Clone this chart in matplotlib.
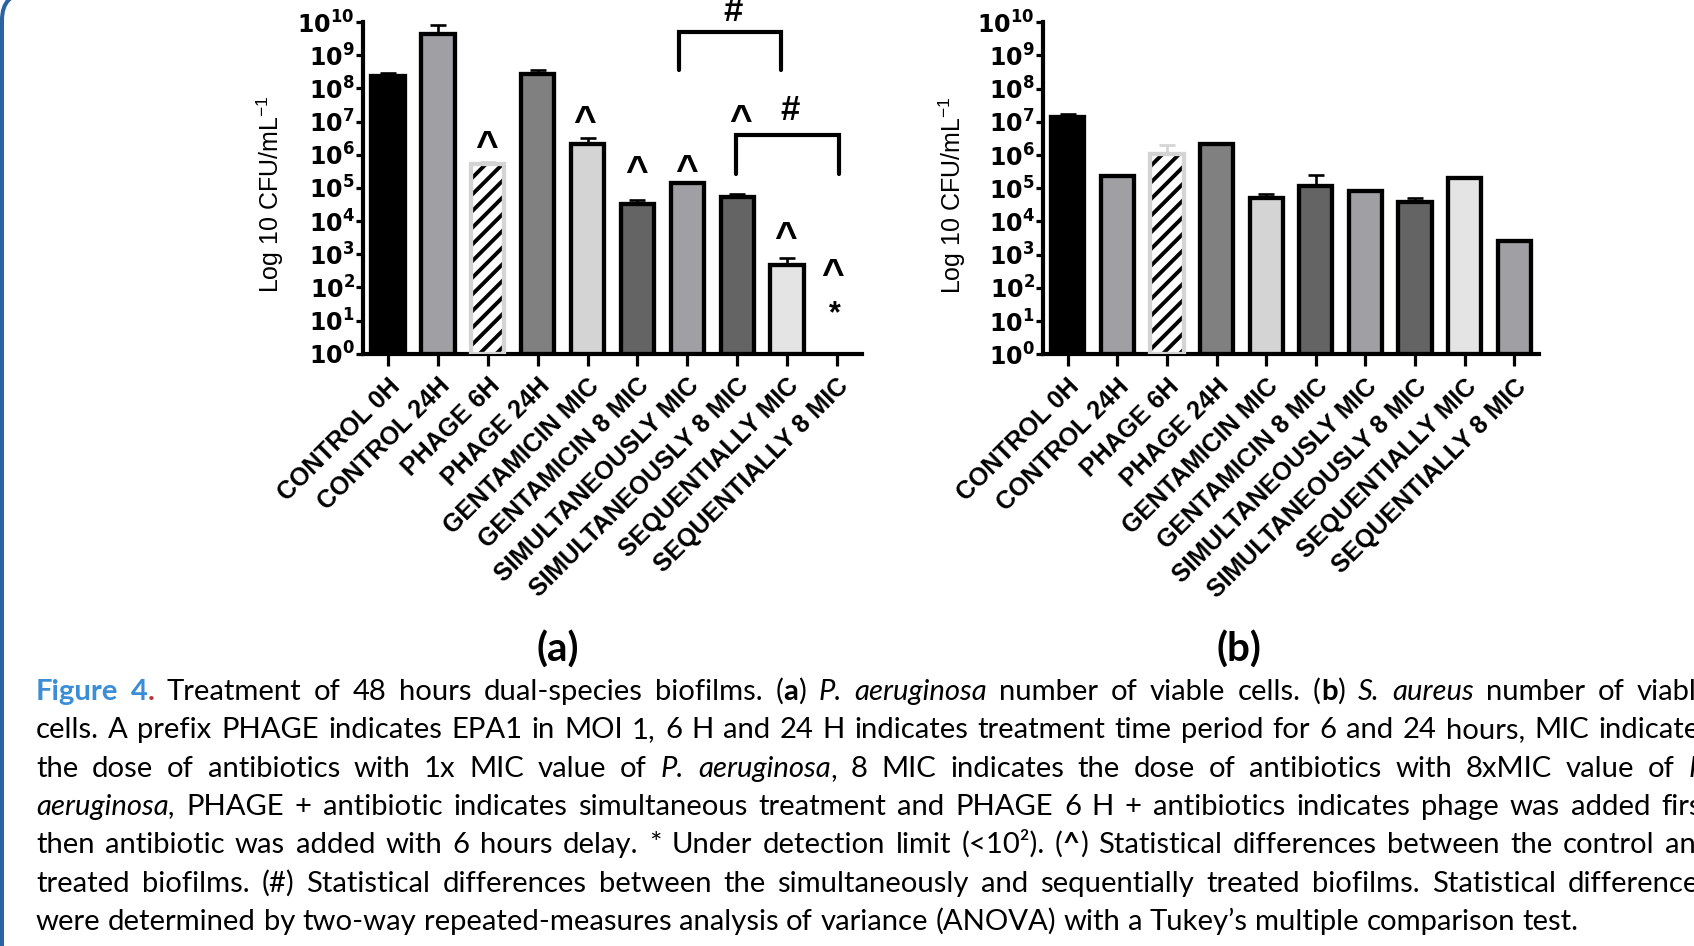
import numpy as np
import matplotlib
matplotlib.use("Agg")
import matplotlib.pyplot as plt
from matplotlib.patches import FancyBboxPatch
from matplotlib.ticker import FixedLocator, NullLocator
from matplotlib.transforms import ScaledTranslation

plt.rcParams['font.family'] = ['Liberation Sans', 'DejaVu Sans']
plt.rcParams['mathtext.fontset'] = 'dejavusans'
plt.rcParams['hatch.linewidth'] = 2.8

# ---- data (CFU/mL) ----
categories = ['CONTROL 0H', 'CONTROL 24H', 'PHAGE 6H', 'PHAGE 24H', 'GENTAMICIN MIC',
              'GENTAMICIN 8 MIC', 'SIMULTANEOUSLY MIC', 'SIMULTANEOUSLY 8 MIC',
              'SEQUENTIALLY MIC', 'SEQUENTIALLY 8 MIC']

# (a) P. aeruginosa, nan = under detection limit
pa_mean = [2.3e8, 4.2e9, 5.4e5, 2.8e8, 2.1e6, 3.3e4, 1.4e5, 5.3e4, 4.8e2, np.nan]
pa_sd = [6e7, 3.7e9, 6e4, 8e7, 1.1e6, 1.1e4, 5e3, 1.2e4, 3.0e2, 0]

# (b) S. aureus
sa_mean = [1.37e7, 2.3e5, 1.05e6, 2.1e6, 5.2e4, 1.2e5, 8.2e4, 3.9e4, 2.0e5, 2.5e3]
sa_sd = [3.3e6, 3e4, 9.5e5, 2.4e5, 1.4e4, 1.3e5, 3e3, 1.3e4, 2e4, 0]

bar_colors = ['#000000', '#a0a0a4', '#ffffff', '#808080', '#d4d4d4',
              '#646464', '#a0a0a4', '#646464', '#e4e4e4', '#a0a0a4']
hatched = 2   # PHAGE 6H

fig = plt.figure(figsize=(16.94, 9.46), dpi=100)

# full-figure axes in pixel units for border, panel letters and caption
bg = fig.add_axes([0, 0, 1, 1], zorder=-1)
bg.set_xlim(0, 1694)
bg.set_ylim(946, 0)
bg.axis('off')
bg.add_patch(FancyBboxPatch((2, -7), 3000, 2000, boxstyle='round,pad=0,rounding_size=27',
                            fill=False, edgecolor='#2b63a2', linewidth=2.9))


def draw_panel(ax, means, sds, label_x):
    x = np.arange(len(categories))
    for i in range(len(categories)):
        if np.isnan(means[i]):
            continue
        if i == hatched:
            ax.bar(x[i], means[i] - 1, bottom=1, width=0.67, color='white',
                   edgecolor='black', hatch='//', linewidth=0, zorder=3)
            ax.bar(x[i], means[i] - 1, bottom=1, width=0.67, color='none',
                   edgecolor='#d4d4d4', linewidth=3.1, zorder=3)
            ecol = '#d4d4d4'
        else:
            ax.bar(x[i], means[i] - 1, bottom=1, width=0.67, color=bar_colors[i],
                   edgecolor='black', linewidth=3.1, zorder=3)
            ecol = 'black'
        if sds[i] > 0:
            ax.errorbar(x[i], means[i], yerr=[[0], [sds[i]]], fmt='none', ecolor=ecol,
                        elinewidth=1.9, capsize=6, capthick=1.9, zorder=2)

    ax.set_yscale('log')
    ax.set_ylim(1, 1e10)
    ax.set_xlim(-0.5, 9.5)
    ax.set_facecolor('none')
    for s in ['top', 'right']:
        ax.spines[s].set_visible(False)
    for s in ['left', 'bottom']:
        ax.spines[s].set_linewidth(3.0)

    decades = np.arange(11)
    ax.yaxis.set_major_locator(FixedLocator(10.0 ** decades))
    ax.yaxis.set_minor_locator(NullLocator())
    ax.set_yticklabels([r'$\mathbf{10^{%d}}$' % d for d in decades], fontsize=17)
    ax.tick_params(axis='y', length=5, width=2.3, pad=1)

    ax.set_xticks(x)
    ax.set_xticklabels(categories, rotation=45, ha='right', va='center',
                       rotation_mode='anchor', fontsize=18, fontweight='bold')
    ax.tick_params(axis='x', length=8.6, width=2.3, pad=12)
    for lab in ax.get_xticklabels():
        lab.set_transform(lab.get_transform() + ScaledTranslation(0.08, 0, fig.dpi_scale_trans))

    ax.set_ylabel(r'Log 10 CFU/mL$^{\mathregular{-1}}$', fontsize=18, va='center')
    ax.yaxis.set_label_coords(label_x, 0.48)


ax_a = fig.add_axes([363 / 1694, (946 - 353.7) / 946, 499 / 1694, 331.7 / 946])
ax_b = fig.add_axes([1043 / 1694, (946 - 354.3) / 946, 496 / 1694, 332 / 946])
draw_panel(ax_a, pa_mean, pa_sd, -0.185)
draw_panel(ax_b, sa_mean, sa_sd, -0.182)

# significance marks on panel (a)
marks = [(1.98, 10 ** 6.52, '^'), (3.94, 10 ** 7.27, '^'), (4.98, 10 ** 5.77, '^'),
         (5.98, 10 ** 5.80, '^'), (7.06, 10 ** 7.31, '^'), (7.97, 10 ** 3.79, '^'),
         (8.91, 10 ** 2.65, '^'), (8.95, 10 ** 1.48, '*'),
         (6.91, 10 ** 10.39, '#'), (8.06, 10 ** 7.40, '#')]
# font size and height of the glyph centre above the baseline (fraction of size)
mark_style = {'^': (28, 0.53), '*': (22, 0.58), '#': (25, 0.35)}
for mx, my, sym in marks:
    size, cen = mark_style[sym]
    ax_a.annotate(sym, xy=(mx, my), xytext=(0, -cen * size), textcoords='offset points',
                  ha='center', va='baseline', fontsize=size, fontweight='bold',
                  annotation_clip=False)

# brackets: x-left, x-right, top, leg end
for x0, x1, ytop, yleg in [(5.83, 7.87, 10 ** 9.71, 10 ** 8.54),
                           (6.98, 9.04, 10 ** 6.59, 10 ** 5.41)]:
    ax_a.plot([x0, x0, x1, x1], [yleg, ytop, ytop, yleg], color='black', lw=3.0,
              solid_capstyle='round', solid_joinstyle='miter', clip_on=False, zorder=4)

# panel letters
bg.text(558, 650, '(a)', ha='center', va='center', family='Lato', fontweight='bold', fontsize=29)
bg.text(1239, 650, '(b)', ha='center', va='center', family='Lato', fontweight='bold', fontsize=29)

# ---- caption ----
caption = [
    [('Figure 4', 'blue'), ('.', 'red'), (' Treatment of 48 hours dual-species biofilms. (', 'n'),
     ('a', 'b'), (') ', 'n'), ('P. aeruginosa', 'i'), (' number of viable cells. (', 'n'),
     ('b', 'b'), (') ', 'n'), ('S. aureus', 'i'), (' number of viable', 'n')],
    [('cells. A prefix PHAGE indicates EPA1 in MOI 1, 6 H and 24 H indicates treatment time '
      'period for 6 and 24 hours, MIC indicates', 'n')],
    [('the dose of antibiotics with 1x MIC value of ', 'n'), ('P. aeruginosa', 'i'),
     (', 8 MIC indicates the dose of antibiotics with 8xMIC value of ', 'n'), ('P.', 'i')],
    [('aeruginosa,', 'i'), (' PHAGE + antibiotic indicates simultaneous treatment and PHAGE 6 H '
                            '+ antibiotics indicates phage was added first', 'n')],
    [('then antibiotic was added with 6 hours delay. * Under detection limit (<10²). (', 'n'),
     ('^', 'b'), (') Statistical differences between the control and', 'n')],
    [('treated biofilms. (#) Statistical differences between the simultaneously and sequentially '
      'treated biofilms. Statistical differences', 'n')],
    [('were determined by two-way repeated-measures analysis of variance (ANOVA) with a '
      'Tukey’s multiple comparison test.', 'n')],
]
styles = {'n': {}, 'i': {'style': 'italic'}, 'b': {'weight': 'bold'},
          'blue': {'color': '#3a8dd6', 'weight': 'bold'},
          'red': {'color': '#b23a3a', 'weight': 'bold'}}

renderer = fig.canvas.get_renderer()


def width_of(txt, style, size):
    t = bg.text(0, 0, txt, fontsize=size, family='Lato', **styles[style])
    w = t.get_window_extent(renderer).width
    t.remove()
    return w


def split_words(segments):
    words = [[]]
    for txt, style in segments:
        for k, part in enumerate(txt.split(' ')):
            if k > 0:
                words.append([])
            if part:
                words[-1].append((part, style))
    return [w for w in words if w]


lines = [split_words(seg) for seg in caption]

# size chosen so the last (unjustified) line ends where it does in the figure
base = 20
nat = sum(width_of(p, s, base) for w in lines[-1] for p, s in w)
nat += (width_of('a a', 'n', base) - width_of('aa', 'n', base)) * (len(lines[-1]) - 1)
fsize = base * (1579 - 36) / nat
space = width_of('a a', 'n', fsize) - width_of('aa', 'n', fsize)

x_left, x_right = 36, 1712
for k, words in enumerate(lines):
    widths = [[width_of(p, s, fsize) for p, s in w] for w in words]
    total = sum(sum(w) for w in widths)
    gap = space
    if k < len(lines) - 1:
        gap = max(space, (x_right - x_left - total) / (len(words) - 1))
    x = x_left
    y = 700 + 38.3 * k
    for w, ws in zip(words, widths):
        for (p, s), pw in zip(w, ws):
            bg.text(x, y, p, fontsize=fsize, family='Lato', va='baseline', **styles[s])
            x += pw
        x += gap

fig.savefig('out.png', dpi=100)
